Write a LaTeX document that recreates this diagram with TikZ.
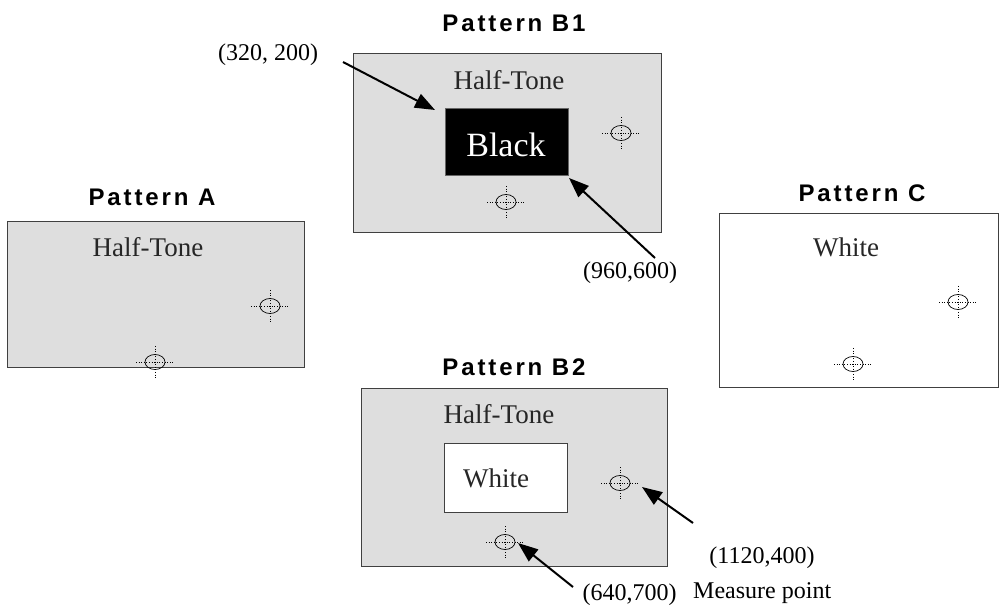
\documentclass[tikz,border=0pt]{standalone}
\usepackage{fontspec}
\setmainfont{Liberation Serif}
\newfontfamily\titlefont[LetterSpace=12]{Liberation Sans}
\usetikzlibrary{arrows.meta}
\tikzset{
  halftone/.style={draw=black!75, line width=0.8pt, fill=black!13, inner sep=0pt},
  plainbox/.style={draw=black!75, line width=0.8pt, fill=white, inner sep=0pt},
  blackbox/.style={draw=black!60, line width=0.6pt, fill=black, inner sep=0pt},
  title/.style={font=\titlefont\bfseries\fontsize{24}{27}\selectfont, anchor=base, inner sep=0pt},
  body/.style={font=\fontsize{27}{30}\selectfont, anchor=base, text=black!85, inner sep=0pt},
  lbl/.style={font=\fontsize{24}{28}\selectfont, anchor=base, inner sep=0pt},
  arr/.style={line width=2pt, -{Triangle[length=20pt,width=15pt]}},
  target/.pic={
    \draw[line width=0.7pt] (0,0) ellipse [x radius=10, y radius=7.5];
    \draw[dotted, line width=0.6pt] (-19,0) -- (19,0) (0,-16) -- (0,16);
  }
}
\begin{document}
\begin{tikzpicture}[x=1pt,y=-1pt]
\useasboundingbox (0,0) rectangle (999,612);

% Pattern A
\node[title] (tA) at (152,206) {Pattern A};
\node[halftone, minimum width=297, minimum height=146] (boxA) at (155.5,294) {};
\node[body] (htA) at (148,257) {Half-Tone};
\pic at (270,306) {target};
\pic at (155,362) {target};

% Pattern B1
\node[title] (tB1) at (514,32) {Pattern B1};
\node[halftone, minimum width=308, minimum height=179] (boxB1) at (507,142.5) {};
\node[body] (htB1) at (509,90) {Half-Tone};
\node[blackbox, minimum width=123, minimum height=67] (blk) at (506.5,141.5) {};
\node[body, text=white, font=\fontsize{34}{38}\selectfont] (blkt) at (506,157) {Black};
\pic at (621,133) {target};
\pic at (506,202) {target};

% Pattern C
\node[title] (tC) at (862,202) {Pattern C};
\node[plainbox, minimum width=279, minimum height=174] (boxC) at (858.5,300) {};
\node[body] (whC) at (846,257) {White};
\pic at (958,302) {target};
\pic at (853,364) {target};

% Pattern B2
\node[title] (tB2) at (514,375) {Pattern B2};
\node[halftone, minimum width=306, minimum height=178] (boxB2) at (514,477) {};
\node[body] (htB2) at (499,423) {Half-Tone};
\node[plainbox, minimum width=123, minimum height=69] (wht) at (505.5,477.5) {};
\node[body] (whtt) at (496,487) {White};
\pic at (620,483) {target};
\pic at (505,542) {target};

% labels
\node[lbl] (l1) at (268,61) {(320, 200)};
\node[lbl] (l2) at (630,279) {(960,600)};
\node[lbl] (l3) at (762,563) {(1120,400)};
\node[lbl, anchor=base west] (l4) at (693,598) {Measure point};
\node[lbl] (l5) at (629.5,600) {(640,700)};

% arrows
\coordinate (s1) at (343,62);  \coordinate (e1) at (435,110);
\coordinate (s2) at (655,258); \coordinate (e2) at (569,178);
\coordinate (s3) at (693,523); \coordinate (e3) at (642,487);
\coordinate (s4) at (573,587); \coordinate (e4) at (518,543);
\draw[arr] (s1) -- (e1);
\draw[arr] (s2) -- (e2);
\draw[arr] (s3) -- (e3);
\draw[arr] (s4) -- (e4);
\end{tikzpicture}
\end{document}
